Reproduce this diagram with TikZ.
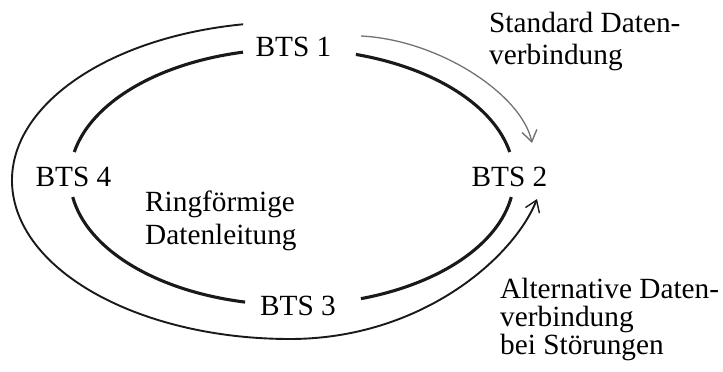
\documentclass[tikz,border=0pt]{standalone}
\usepackage{fontspec}
\setmainfont{Liberation Serif}
\usetikzlibrary{arrows.meta}
\tikzset{
  lbl/.style={inner sep=0pt, font=\fontsize{29.3}{33}\selectfont, text=black},
  multilbl/.style={lbl, align=left},
  ring/.style={line width=3.1pt, draw=black!90},
  outerline/.style={line width=1.9pt, draw=black!90},
  tipV/.style={-{Straight Barb[length=11pt,width=15pt,line width=1.4pt]}},
}
\begin{document}
\begin{tikzpicture}[x=1pt,y=1pt]
\useasboundingbox (0,0) rectangle (723,372);
% station labels
\node[lbl, anchor=base] (bts1) at (293.5,315) {BTS 1};
\node[lbl, anchor=base] (bts2) at (509.5,185) {BTS 2};
\node[lbl, anchor=base] (bts3) at (298,56) {BTS 3};
\node[lbl, anchor=base] (bts4) at (73.5,185) {BTS 4};
% (base anchor of a multi-line node = baseline of its last line)
\node[multilbl, anchor=base west] (ring) at (145,127) {Ringförmige\\Datenleitung};
\node[multilbl, anchor=base west, font=\fontsize{29.3}{32}\selectfont] (std) at (489,307) {Standard Daten-\\verbindung};
\node[multilbl, anchor=base west, font=\fontsize{29.3}{28}\selectfont] (alt) at (500,17) {Alternative Daten-\\verbindung\\bei Störungen};
% ring line (inner ellipse), broken at the stations
\coordinate (c) at (292,195);
\draw[ring] (c) ++(11.25:222 and 128) arc[start angle=11.25, end angle=73.25, x radius=222, y radius=128];
\draw[ring] (c) ++(102.75:222 and 128) arc[start angle=102.75, end angle=168.75, x radius=222, y radius=128];
\draw[ring] (c) ++(189:222 and 128) arc[start angle=189, end angle=257.8, x radius=222, y radius=128];
\draw[ring] (c) ++(288.1:222 and 128) arc[start angle=288.1, end angle=351, x radius=222, y radius=128];
% standard connection BTS1 -> BTS2
\coordinate (stdA) at (361,336);
\coordinate (stdB) at (532,229);
\draw[tipV, draw=black!55, line width=1.3pt] (stdA) .. controls (440,332) and (522,277) .. (stdB);
% alternative connection round the outside
\coordinate (oc) at (290,191.5);
\coordinate (altB) at (537,173);
\draw[outerline, tipV] (oc) ++(99.7:278 and 158.5) arc[start angle=99.7, end angle=270, x radius=278, y radius=158.5]
  .. controls (420,33) and (513,113) .. (altB);
\end{tikzpicture}
\end{document}
